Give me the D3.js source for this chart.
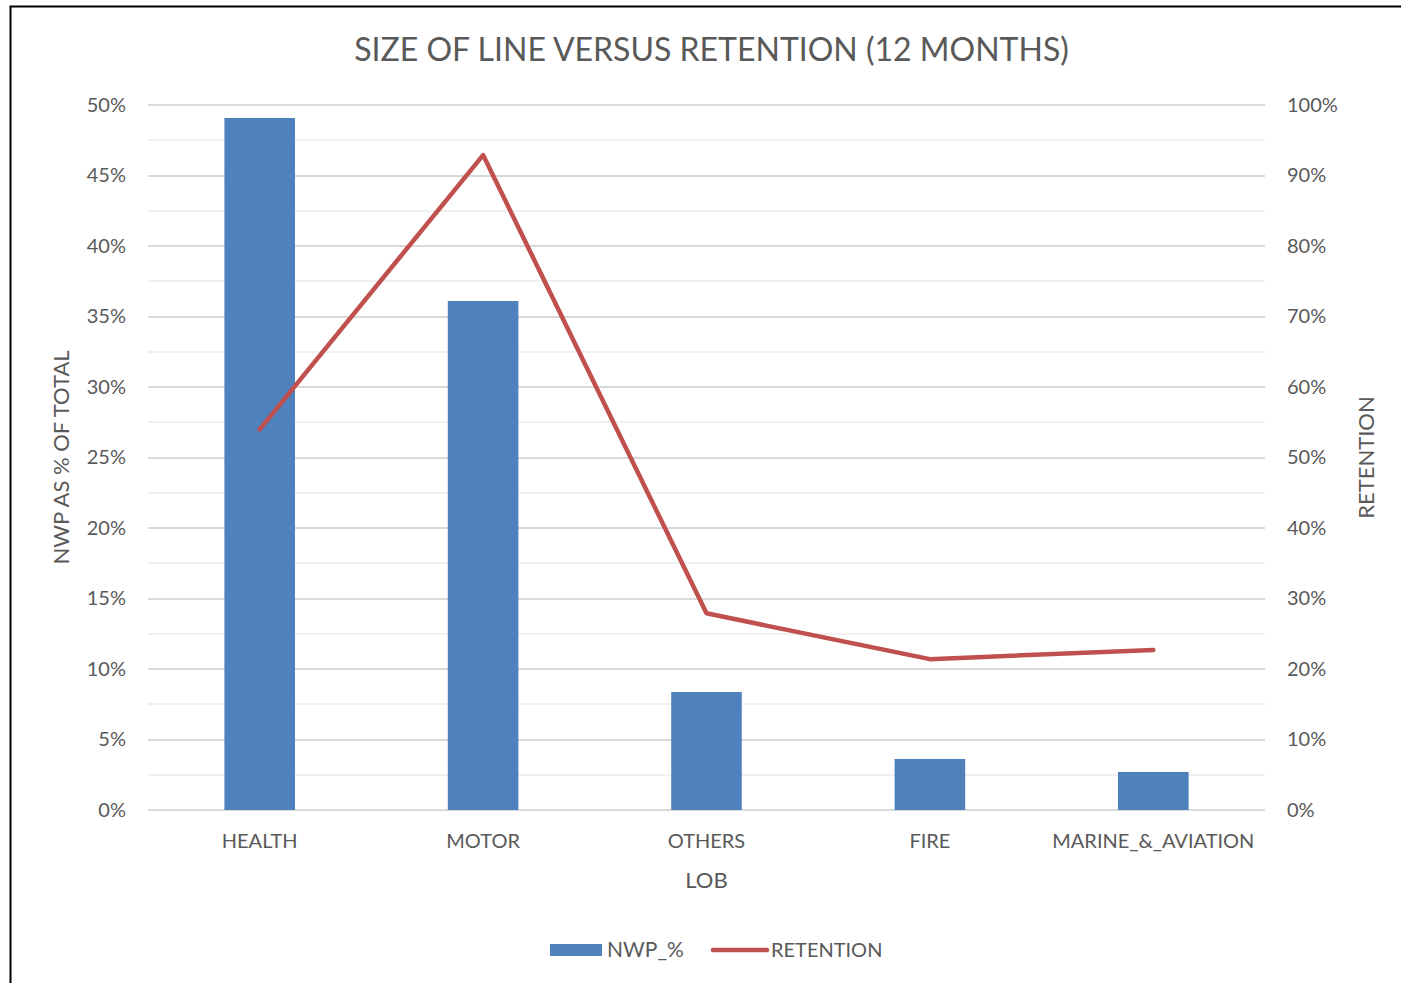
<!DOCTYPE html>
<html>
<head>
<meta charset="utf-8">
<script src="https://cdn.jsdelivr.net/npm/d3@7"></script>
<style>
  body { margin: 0; background: #fff; }
  text { font-family: Lato, "Open Sans", sans-serif; fill: #595959; }
</style>
</head>
<body>
<div id="chart"></div>
<script>
// chart data
var categories = ["HEALTH", "MOTOR", "OTHERS", "FIRE", "MARINE_&_AVIATION"];
var nwpPct = [0.4908, 0.361, 0.0837, 0.0362, 0.027];
var retention = [0.54, 0.929, 0.279, 0.214, 0.227];
var leftTicks = [0, 0.05, 0.10, 0.15, 0.20, 0.25, 0.30, 0.35, 0.40, 0.45, 0.50];
var rightTicks = [0, 0.1, 0.2, 0.3, 0.4, 0.5, 0.6, 0.7, 0.8, 0.9, 1.0];

var w = 1401;
var h = 983;
var plotLeft = 148, plotRight = 1265, plotTop = 105, plotBottom = 810;

var svg = d3.select("#chart")
            .append("svg")
            .attr("width", w)
            .attr("height", h);

// frame (only top and left edges are in view)
svg.append("path")
   .attr("d", `M10.5,${h} V6.5 H${w}`)
   .attr("fill", "none")
   .attr("stroke", "#000")
   .attr("stroke-width", 2);

var x = d3.scaleBand()
          .domain(categories)
          .range([plotLeft, plotRight]);

var yLeft = d3.scaleLinear()
              .domain([0, 0.5])
              .range([plotBottom, plotTop]);

var yRight = d3.scaleLinear()
               .domain([0, 1])
               .range([plotBottom, plotTop]);

// minor gridlines (every 2.5%)
var minor = d3.range(0.025, 0.5, 0.05);
svg.append("g")
   .selectAll("line")
   .data(minor)
   .join("line")
   .attr("x1", plotLeft).attr("x2", plotRight)
   .attr("y1", d => Math.round(yLeft(d)))
   .attr("y2", d => Math.round(yLeft(d)))
   .attr("stroke", "#f0f0f0")
   .attr("stroke-width", 2);

// major gridlines
svg.append("g")
   .selectAll("line")
   .data(leftTicks)
   .join("line")
   .attr("x1", plotLeft).attr("x2", plotRight)
   .attr("y1", d => Math.round(yLeft(d)))
   .attr("y2", d => Math.round(yLeft(d)))
   .attr("stroke", "#d9d9d9")
   .attr("stroke-width", 2);

// left axis
var leftAxis = d3.axisLeft(yLeft)
                 .tickValues(leftTicks)
                 .tickFormat(d3.format(".0%"))
                 .tickSize(0)
                 .tickPadding(22);
svg.append("g")
   .attr("transform", `translate(${plotLeft}, 0)`)
   .call(leftAxis)
   .call(g => g.select(".domain").remove())
   .selectAll("text")
   .attr("font-size", 20)
   .attr("font-family", null)
   .attr("fill", "#595959");

// right axis
var rightAxis = d3.axisRight(yRight)
                  .tickValues(rightTicks)
                  .tickFormat(d3.format(".0%"))
                  .tickSize(0)
                  .tickPadding(22);
svg.append("g")
   .attr("transform", `translate(${plotRight}, 0)`)
   .call(rightAxis)
   .call(g => g.select(".domain").remove())
   .selectAll("text")
   .attr("font-size", 20)
   .attr("font-family", null)
   .attr("fill", "#595959");

// bottom axis
var bottomAxis = d3.axisBottom(x).tickSize(0).tickPadding(24);
svg.append("g")
   .attr("transform", `translate(0, ${plotBottom})`)
   .call(bottomAxis)
   .call(g => g.select(".domain").remove())
   .selectAll("text")
   .attr("font-size", 20)
   .attr("font-family", null)
   .attr("fill", "#595959");

// bars
var barW = x.bandwidth() * 0.316;
svg.append("g")
   .selectAll("rect")
   .data(categories)
   .join("rect")
   .attr("x", (d, i) => x(d) + x.bandwidth() / 2 - barW / 2)
   .attr("y", (d, i) => yLeft(nwpPct[i]))
   .attr("width", barW)
   .attr("height", (d, i) => plotBottom - yLeft(nwpPct[i]))
   .attr("fill", "#4f81bd");

// retention line
var line = d3.line()
             .x((d, i) => x(categories[i]) + x.bandwidth() / 2)
             .y(d => yRight(d));

svg.append("path")
   .datum(retention)
   .attr("d", line)
   .attr("fill", "none")
   .attr("stroke", "#c0504d")
   .attr("stroke-width", 4.5)
   .attr("stroke-linecap", "round")
   .attr("stroke-linejoin", "round");

// title
svg.append("text")
   .attr("x", (plotLeft + plotRight) / 2 + 5)
   .attr("y", 61)
   .attr("text-anchor", "middle")
   .attr("font-size", 32)
   .text("SIZE OF LINE VERSUS RETENTION (12 MONTHS)");

// axis titles
svg.append("text")
   .attr("x", (plotLeft + plotRight) / 2)
   .attr("y", 888)
   .attr("text-anchor", "middle")
   .attr("font-size", 22)
   .text("LOB");

svg.append("text")
   .attr("transform", `translate(69, ${(plotTop + plotBottom) / 2}) rotate(-90)`)
   .attr("text-anchor", "middle")
   .attr("font-size", 22)
   .text("NWP AS % OF TOTAL");

svg.append("text")
   .attr("transform", `translate(1374, ${(plotTop + plotBottom) / 2}) rotate(-90)`)
   .attr("text-anchor", "middle")
   .attr("font-size", 22)
   .text("RETENTION");

// legend
var legend = svg.append("g").attr("transform", "translate(550, 950)");
legend.append("rect")
      .attr("x", 0).attr("y", -6)
      .attr("width", 52).attr("height", 12)
      .attr("fill", "#4f81bd");
legend.append("text")
      .attr("x", 57).attr("y", 7)
      .attr("font-size", 21)
      .text("NWP_%");
legend.append("line")
      .attr("x1", 163).attr("x2", 217)
      .attr("y1", 0).attr("y2", 0)
      .attr("stroke", "#c0504d")
      .attr("stroke-width", 4.5)
      .attr("stroke-linecap", "round");
legend.append("text")
      .attr("x", 221).attr("y", 7)
      .attr("font-size", 20)
      .text("RETENTION");
</script>
</body>
</html>
